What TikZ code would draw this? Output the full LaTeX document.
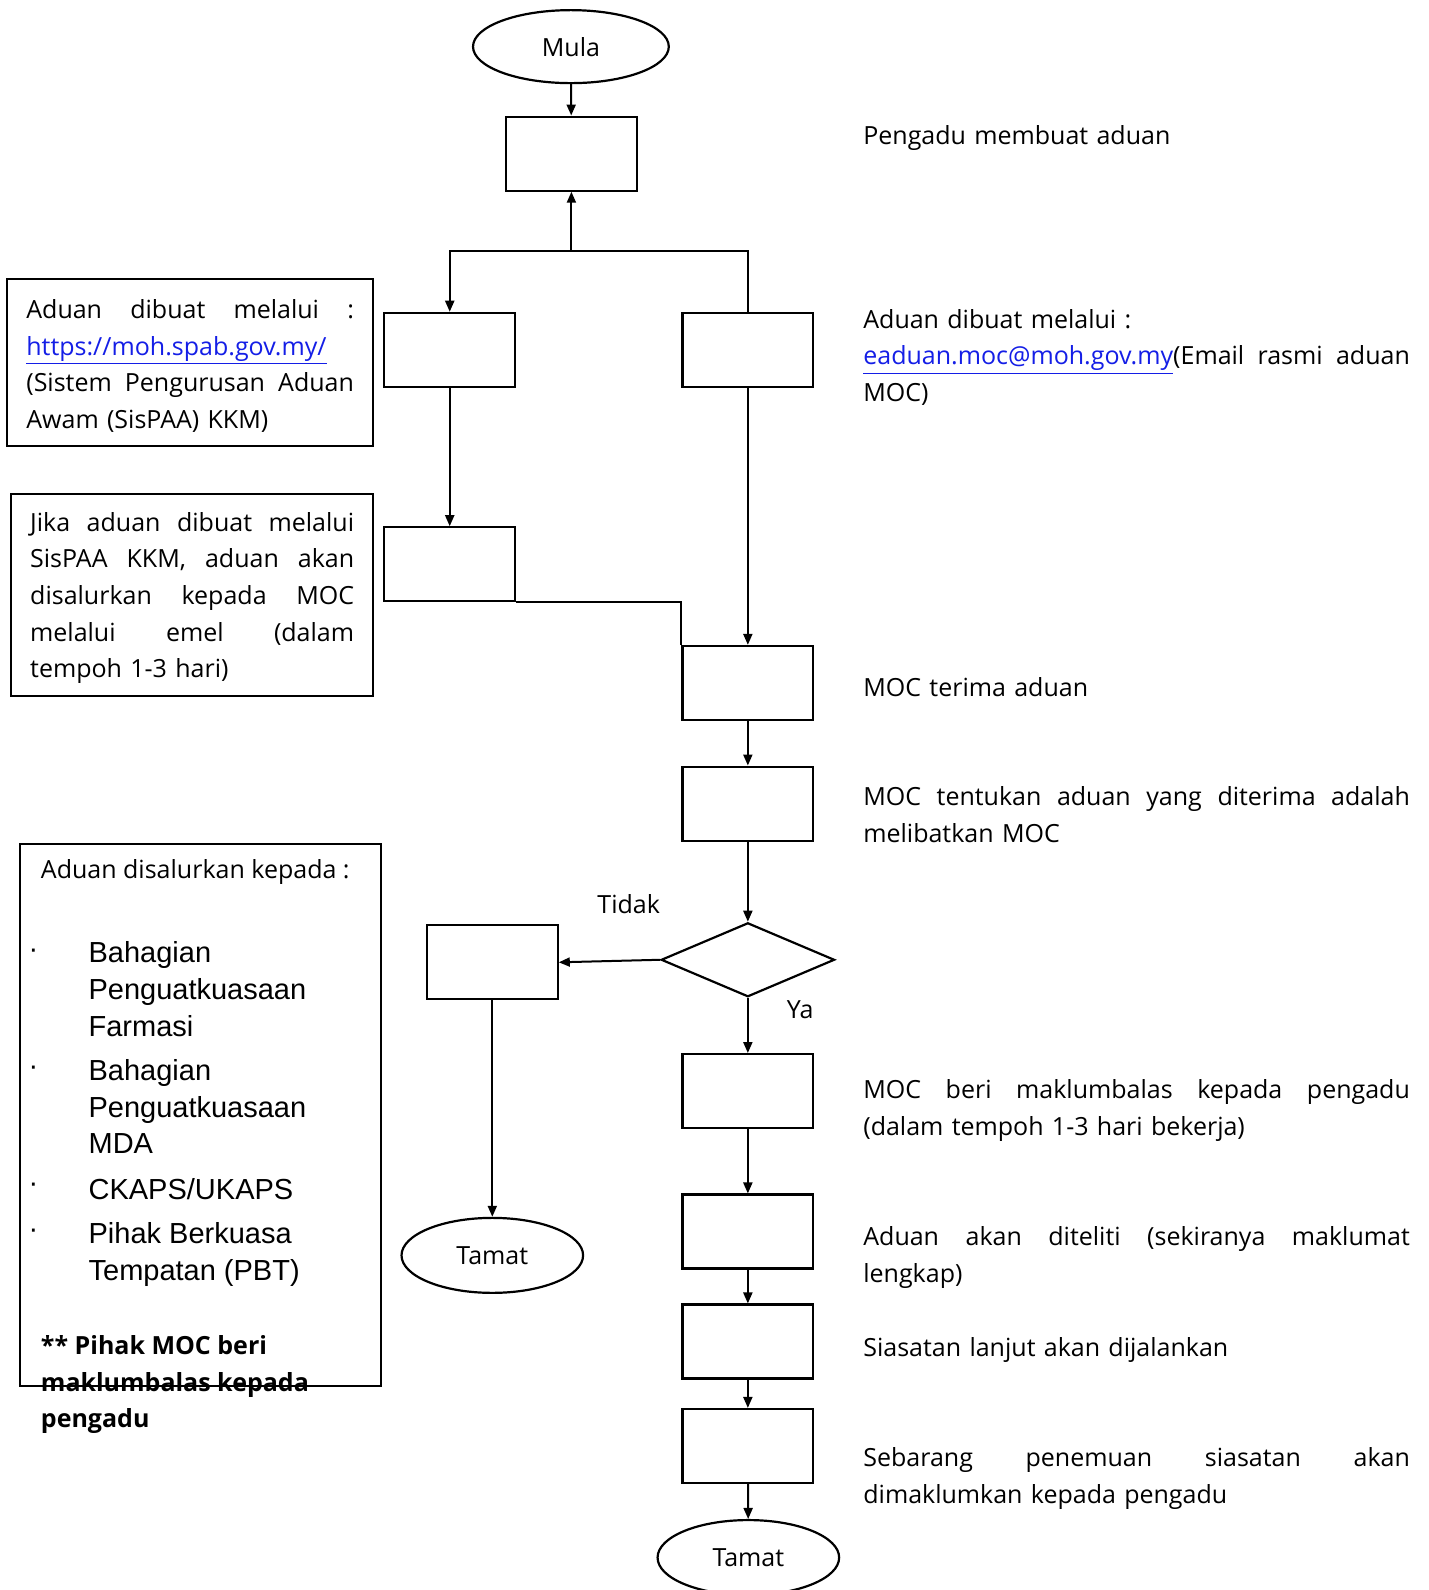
\documentclass[tikz,border=0pt]{standalone}
\usepackage{fontspec}
\setmainfont{Open Sans}
\newfontfamily\arialfont{Liberation Sans}
\usepackage{xcolor}
\usetikzlibrary{shapes.geometric, arrows.meta}
\definecolor{linkblue}{RGB}{20,30,230}
\newcommand{\jline}[2][273.3pt]{\makebox[#1][s]{#2}}

\begin{document}
\begin{tikzpicture}[x=0.5071pt, y=-0.5071pt,
    every node/.style={font=\fontsize{12.5}{18.3}\selectfont},
    stepbox/.style={draw, line width=1.1pt, minimum width=65.4pt, minimum height=37pt, inner sep=0pt},
    endpoint/.style={draw, ellipse, line width=1.1pt, minimum width=90.8pt, minimum height=37.5pt, inner sep=0pt},
    notebox/.style={draw, line width=1pt, align=left, inner xsep=9.5pt, inner ysep=0pt},
    sidetext/.style={anchor=north west, inner sep=0pt, align=left, text width=273.3pt},
    itemtext/.style={anchor=north west, inner sep=0pt, align=left, font=\arialfont\fontsize{14.5}{18.3}\selectfont},
    flow/.style={line width=1pt, -{Triangle[length=5.5pt,width=4.5pt]}}
]
    \useasboundingbox (0,0) rectangle (1409,1568);

    % start and first step
    \node[endpoint, minimum width=97.9pt, minimum height=36.5pt] (mula) at (563,46) {Mula};
    \node[stepbox] (aduan) at (563.5,151.5) {};
    \coordinate (cabang) at (563.5,248);

    % two channels
    \node[stepbox] (sispaa) at (443.5,345) {};
    \node[stepbox] (emel) at (737.5,345) {};
    \node[stepbox] (salur) at (443.5,556.5) {};

    % main column
    \node[stepbox] (terima) at (737.5,673.5) {};
    \node[stepbox] (tentu) at (737.5,792.5) {};
    \node[draw, diamond, line width=1.1pt, minimum width=86.7pt, minimum height=37pt, inner sep=0pt] (libat) at (737.5,946.5) {};
    \node[stepbox] (rujuk) at (485.5,949) {};
    \node[stepbox] (balas) at (737.5,1076) {};
    \node[stepbox] (teliti) at (737.5,1214.5) {};
    \node[stepbox] (siasat) at (737.5,1323) {};
    \node[stepbox] (maklum) at (737.5,1426) {};
    \node[endpoint] (tamatkiri) at (485.5,1238) {Tamat};
    \node[endpoint] (tamat) at (738,1536) {Tamat};

    % decision labels
    \node (tidak) at (620,892) {Tidak};
    \node (ya) at (789,996) {Ya};

    % connectors
    \draw[flow] (mula) -- (aduan);
    \draw[flow] (cabang) -- (aduan);
    \draw[flow] (emel.north) |- (cabang) -| (sispaa.north);
    \draw[flow] (sispaa) -- (salur);
    \draw[flow] (emel) -- (terima);
    \draw[line width=1pt] (salur.south east) -| (terima.north west);
    \draw[flow] (terima) -- (tentu);
    \draw[flow] (tentu) -- (libat);
    \draw[flow] (libat.west) -- (rujuk.east);
    \draw[flow] (libat) -- (balas);
    \draw[flow] (rujuk) -- (tamatkiri);
    \draw[flow] (balas) -- (teliti);
    \draw[flow] (teliti) -- (siasat);
    \draw[flow] (siasat) -- (maklum);
    \draw[flow] (maklum) -- (tamat);

    % notes on the left
    \node[notebox, text width=163.8pt, minimum height=83.7pt] (notaweb) at (187.5,357.5)
        {\jline[163.8pt]{\strut Aduan\hfill dibuat\hfill melalui\hfill :}\\
         \textcolor{linkblue}{\underline{https://moh.spab.gov.my/}}\\
         \jline[163.8pt]{(Sistem\hfill Pengurusan\hfill Aduan}\\
         Awam (SisPAA) KKM)};
    \node[notebox, text width=162pt, minimum height=100.9pt] (notasalur) at (189.5,586.5)
        {\jline[162pt]{\strut Jika\hfill aduan\hfill dibuat\hfill melalui}\\
         \jline[162pt]{SisPAA\hfill KKM,\hfill aduan\hfill akan}\\
         \jline[162pt]{disalurkan\hfill kepada\hfill MOC}\\
         \jline[162pt]{melalui\hfill emel\hfill (dalam}\\
         tempoh 1-3 hari)};

    % referral box
    \node[draw, line width=1pt, minimum width=180.5pt, minimum height=271.3pt, inner sep=0pt] (notarujuk) at (198,1099.5) {};
    \node[anchor=west, inner sep=0pt] (rujukjudul) at (40,860) {Aduan disalurkan kepada :};
    \node[itemtext] (item1) at (87,924) {\strut Bahagian\\ Penguatkuasaan\\ Farmasi};
    \node[itemtext] (item2) at (87,1040) {\strut Bahagian\\ Penguatkuasaan\\ MDA};
    \node[itemtext] (item3) at (87,1157) {\strut CKAPS/UKAPS};
    \node[itemtext] (item4) at (87,1201) {\strut Pihak Berkuasa\\ Tempatan (PBT)};
    \node[anchor=base, inner sep=0pt, font=\arialfont\fontsize{14.5}{18.3}\selectfont] (dot1) at (33,945) {·};
    \node[anchor=base, inner sep=0pt, font=\arialfont\fontsize{14.5}{18.3}\selectfont] (dot2) at (33,1061) {·};
    \node[anchor=base, inner sep=0pt, font=\arialfont\fontsize{14.5}{18.3}\selectfont] (dot3) at (33,1176) {·};
    \node[anchor=base, inner sep=0pt, font=\arialfont\fontsize{14.5}{18.3}\selectfont] (dot4) at (33,1221) {·};
    \node[anchor=north west, inner sep=0pt, align=left, font=\fontsize{12.5}{18.3}\selectfont\bfseries] (rujuknota) at (40,1310)
        {\strut ** Pihak MOC beri\\ maklumbalas kepada\\ pengadu};

    % step descriptions
    \node[sidetext] (desc1) at (851,117) {\strut Pengadu membuat aduan};
    \node[sidetext] (desc2) at (851,298) {\strut Aduan dibuat melalui :\\
        \jline{\textcolor{linkblue}{\underline{eaduan.moc@moh.gov.my}}(Email\hfill rasmi\hfill aduan}\\ MOC)};
    \node[sidetext] (desc3) at (851,661) {\strut MOC terima aduan};
    \node[sidetext] (desc4) at (851,769) {\jline{\strut MOC\hfill tentukan\hfill aduan\hfill yang\hfill diterima\hfill adalah}\\ melibatkan MOC};
    \node[sidetext] (desc5) at (851,1058) {\jline{\strut MOC\hfill beri\hfill maklumbalas\hfill kepada\hfill pengadu}\\ (dalam tempoh 1-3 hari bekerja)};
    \node[sidetext] (desc6) at (851,1203) {\jline{\strut Aduan\hfill akan\hfill diteliti\hfill (sekiranya\hfill maklumat}\\ lengkap)};
    \node[sidetext] (desc7) at (851,1312) {\strut Siasatan lanjut akan dijalankan};
    \node[sidetext] (desc8) at (851,1421) {\jline{\strut Sebarang\hfill penemuan\hfill siasatan\hfill akan}\\ dimaklumkan kepada pengadu};
\end{tikzpicture}
\end{document}
